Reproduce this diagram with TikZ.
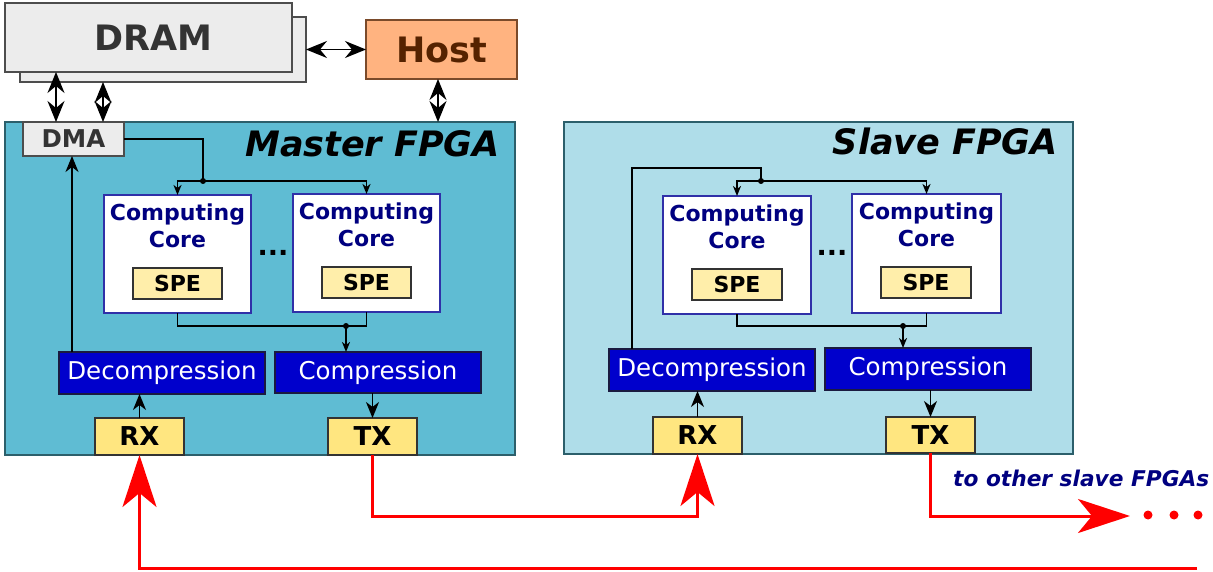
\documentclass[tikz,border=0pt]{standalone}
\usepackage{fontspec}
\setmainfont{DejaVu Sans}[BoldFont={DejaVu Sans Bold},ItalicFont={DejaVu Sans Oblique},BoldItalicFont={DejaVu Sans Bold Oblique}]
\usetikzlibrary{arrows.meta,calc}

\definecolor{masterfill}{HTML}{5FBCD3}
\definecolor{slavefill}{HTML}{AFDDE9}
\definecolor{fpgaedge}{HTML}{2C5F6B}
\definecolor{dramfill}{HTML}{ECECEC}
\definecolor{dramedge}{HTML}{4D4D4D}
\definecolor{dramtext}{HTML}{333333}
\definecolor{hostfill}{HTML}{FFB380}
\definecolor{hostedge}{HTML}{7A4A2A}
\definecolor{hosttext}{HTML}{552200}
\definecolor{coreedge}{HTML}{3030A8}
\definecolor{navytext}{HTML}{000080}
\definecolor{spefill}{HTML}{FFEEAA}
\definecolor{rxfill}{HTML}{FFE680}
\definecolor{blockedge}{HTML}{333333}
\definecolor{codecfill}{HTML}{0000CC}
\definecolor{codecedge}{HTML}{1A1A40}
\definecolor{linkred}{HTML}{FF0000}

\tikzset{
  box/.style={draw, line width=1.2pt, inner sep=0pt, outer sep=0pt},
  fpga/.style={box, draw=fpgaedge},
  dramblock/.style={box, fill=dramfill, draw=dramedge, text=dramtext,
    font=\fontsize{35}{40}\selectfont\bfseries},
  hostblock/.style={box, fill=hostfill, draw=hostedge, text=hosttext,
    font=\fontsize{35}{40}\selectfont\bfseries},
  dmablock/.style={box, fill=dramfill, draw=dramedge, text=dramtext,
    font=\fontsize{24.5}{28}\selectfont\bfseries},
  coreblock/.style={box, fill=white, draw=coreedge, minimum width=147pt, minimum height=118pt},
  coretext/.style={align=center, text=navytext, inner sep=0pt,
    font=\fontsize{22}{27}\selectfont\bfseries},
  speblock/.style={box, fill=spefill, draw=blockedge, minimum width=89pt, minimum height=31pt,
    font=\fontsize{22}{25}\selectfont\bfseries},
  codec/.style={box, fill=codecfill, draw=codecedge, text=white, minimum width=206pt,
    minimum height=42pt, font=\fontsize{24.5}{28}\selectfont},
  portblock/.style={box, fill=rxfill, draw=blockedge, minimum width=89pt, minimum height=37pt,
    font=\fontsize{26}{30}\selectfont\bfseries},
  fpgatitle/.style={inner sep=0pt, font=\fontsize{35}{40}\selectfont\bfseries\itshape},
  dots/.style={inner sep=0pt, font=\fontsize{27}{30}\selectfont\bfseries},
  bus/.style={line width=1.8pt, black},
  smallhead/.style={bus, -{Stealth[length=10pt, width=8pt, inset=3pt]}},
  midhead/.style={bus, -{Stealth[length=16pt, width=13pt, inset=5pt]}},
  bothheads/.style={bus, {Stealth[length=21pt, width=17pt, inset=7pt]}-{Stealth[length=21pt, width=17pt, inset=7pt]}},
  redlink/.style={line width=3pt, linkred, -{Stealth[length=52pt, width=34pt, inset=14pt]}},
  junction/.style={circle, fill=black, inner sep=0pt, minimum size=6pt},
}

\begin{document}
\begin{tikzpicture}[x=1pt, y=-1pt]
\useasboundingbox (0,0) rectangle (1213,572);

% ---------- FPGA boards ----------
\node[fpga, fill=masterfill, minimum width=510pt, minimum height=333pt] (mfpga) at (260,288.5) {};
\node[fpga, fill=slavefill, minimum width=509pt, minimum height=332pt] (sfpga) at (818.5,288) {};
\node[fpgatitle, anchor=base east] (mtitle) at (500,157) {Master FPGA};
\node[fpgatitle, anchor=base east] (stitle) at (1058,155) {Slave FPGA};

% ---------- memory and host ----------
\node[dramblock, minimum width=286pt, minimum height=65pt] (dramback) at (163,49.5) {};
\node[dramblock, minimum width=287pt, minimum height=69pt] (dram) at (148.5,37.5) {\hspace*{9pt}DRAM};
\node[hostblock, minimum width=151pt, minimum height=59pt] (host) at (441.5,49.5) {Host};
\node[dmablock, minimum width=101pt, minimum height=34pt] (dma) at (73.5,139) {DMA};

% ---------- master FPGA blocks ----------
\node[coreblock] (mc1) at (177.5,254) {};
\node[coreblock] (mc2) at (366.5,253) {};
\node[coretext] (mc1t) at (177.5,225.5) {Computing\\Core};
\node[coretext] (mc2t) at (366.5,224.5) {Computing\\Core};
\node[speblock] (mspe1) at (177.5,283.5) {SPE};
\node[speblock] (mspe2) at (366.5,282.5) {SPE};
\node[dots] (mdots) at (273,253) {...};
\node[codec] (mdec) at (162,373) {Decompression};
\node[codec, minimum height=41pt] (mcomp) at (378,372.5) {Compression};
\node[portblock] (mrx) at (139.5,436.5) {RX};
\node[portblock] (mtx) at (372.5,436.5) {TX};

% ---------- slave FPGA blocks ----------
\node[coreblock, minimum width=148pt] (sc1) at (737,255) {};
\node[coreblock, minimum width=149pt, minimum height=119pt] (sc2) at (926.5,253.5) {};
\node[coretext] (sc1t) at (737,226.5) {Computing\\Core};
\node[coretext] (sc2t) at (926.5,225) {Computing\\Core};
\node[speblock, minimum width=90pt] (sspe1) at (737,284.5) {SPE};
\node[speblock, minimum width=90pt] (sspe2) at (926,282.5) {SPE};
\node[dots] (sdots) at (832,253) {...};
\node[codec] (sdec) at (712,370) {Decompression};
\node[codec] (scomp) at (928,369) {Compression};
\node[portblock] (srx) at (697.5,435.5) {RX};
\node[portblock, minimum height=36pt] (stx) at (930.5,435) {TX};

% ---------- host / memory links ----------
\coordinate (dmaleft) at (56,0);
\coordinate (dmaright) at (103,0);
\coordinate (hostlink) at (438,0);
\draw[bothheads] (dramback.east) -- (host.west);
\draw[bothheads] (dmaleft |- dram.south) -- (dmaleft |- dma.north);
\draw[bothheads] (dmaright |- dramback.south) -- (dmaright |- dma.north);
\draw[bothheads] (hostlink |- host.south) -- (hostlink |- mfpga.north);

% ---------- master FPGA data path ----------
\coordinate (mjoin) at (203,181);
\coordinate (mmerge) at (346,326);
\draw[bus] (dma.east) -| (mjoin);
\draw[smallhead] (mjoin) -| (mc1.north);
\draw[smallhead] (mjoin) -| (mc2.north);
\node[junction] (mjoindot) at (mjoin) {};
\draw[bus] (mc1.south) |- (mmerge) -| (mc2.south);
\draw[smallhead] (mmerge) -- (mmerge |- mcomp.north);
\node[junction] (mmergedot) at (mmerge) {};
\coordinate (mup) at (72,0);
\draw[midhead] (mup |- mdec.north) -- (mup |- dma.south);
\draw[midhead] (mrx.north) -- (mrx.north |- mdec.south);
\draw[midhead] (mtx.north |- mcomp.south) -- (mtx.north);

% ---------- slave FPGA data path ----------
\coordinate (sturn) at (632,168);
\coordinate (sjoin) at (761,181);
\coordinate (smerge) at (903,326);
\draw[bus] (sturn |- sdec.north) -- (sturn) -| (sjoin);
\draw[smallhead] (sjoin) -| (sc1.north);
\draw[smallhead] (sjoin) -| (sc2.north);
\node[junction] (sjoindot) at (sjoin) {};
\draw[bus] (sc1.south) |- (smerge) -| (sc2.south);
\draw[smallhead] (smerge) -- (smerge |- scomp.north);
\node[junction] (smergedot) at (smerge) {};
\draw[midhead] (srx.north) -- (srx.north |- sdec.south);
\draw[midhead] (stx.north |- scomp.south) -- (stx.north);

% ---------- serial links between boards ----------
\coordinate (lane1) at (0,516);
\coordinate (lane2) at (1197,568);
\coordinate (onward) at (1130,516);
\draw[redlink] (mtx.south) |- (srx.south |- lane1) -- (srx.south);
\draw[redlink] (lane2) -| (mrx.south);
\draw[redlink] (stx.south) |- (onward);
\foreach \px in {1148,1174,1198}
  \fill[linkred] (\px,515) circle (4.5pt);
\node[anchor=base west, inner sep=0pt, text=navytext,
  font=\fontsize{21.7}{26}\selectfont\bfseries\itshape] (others) at (953,486) {to other slave FPGAs};

\end{tikzpicture}
\end{document}
